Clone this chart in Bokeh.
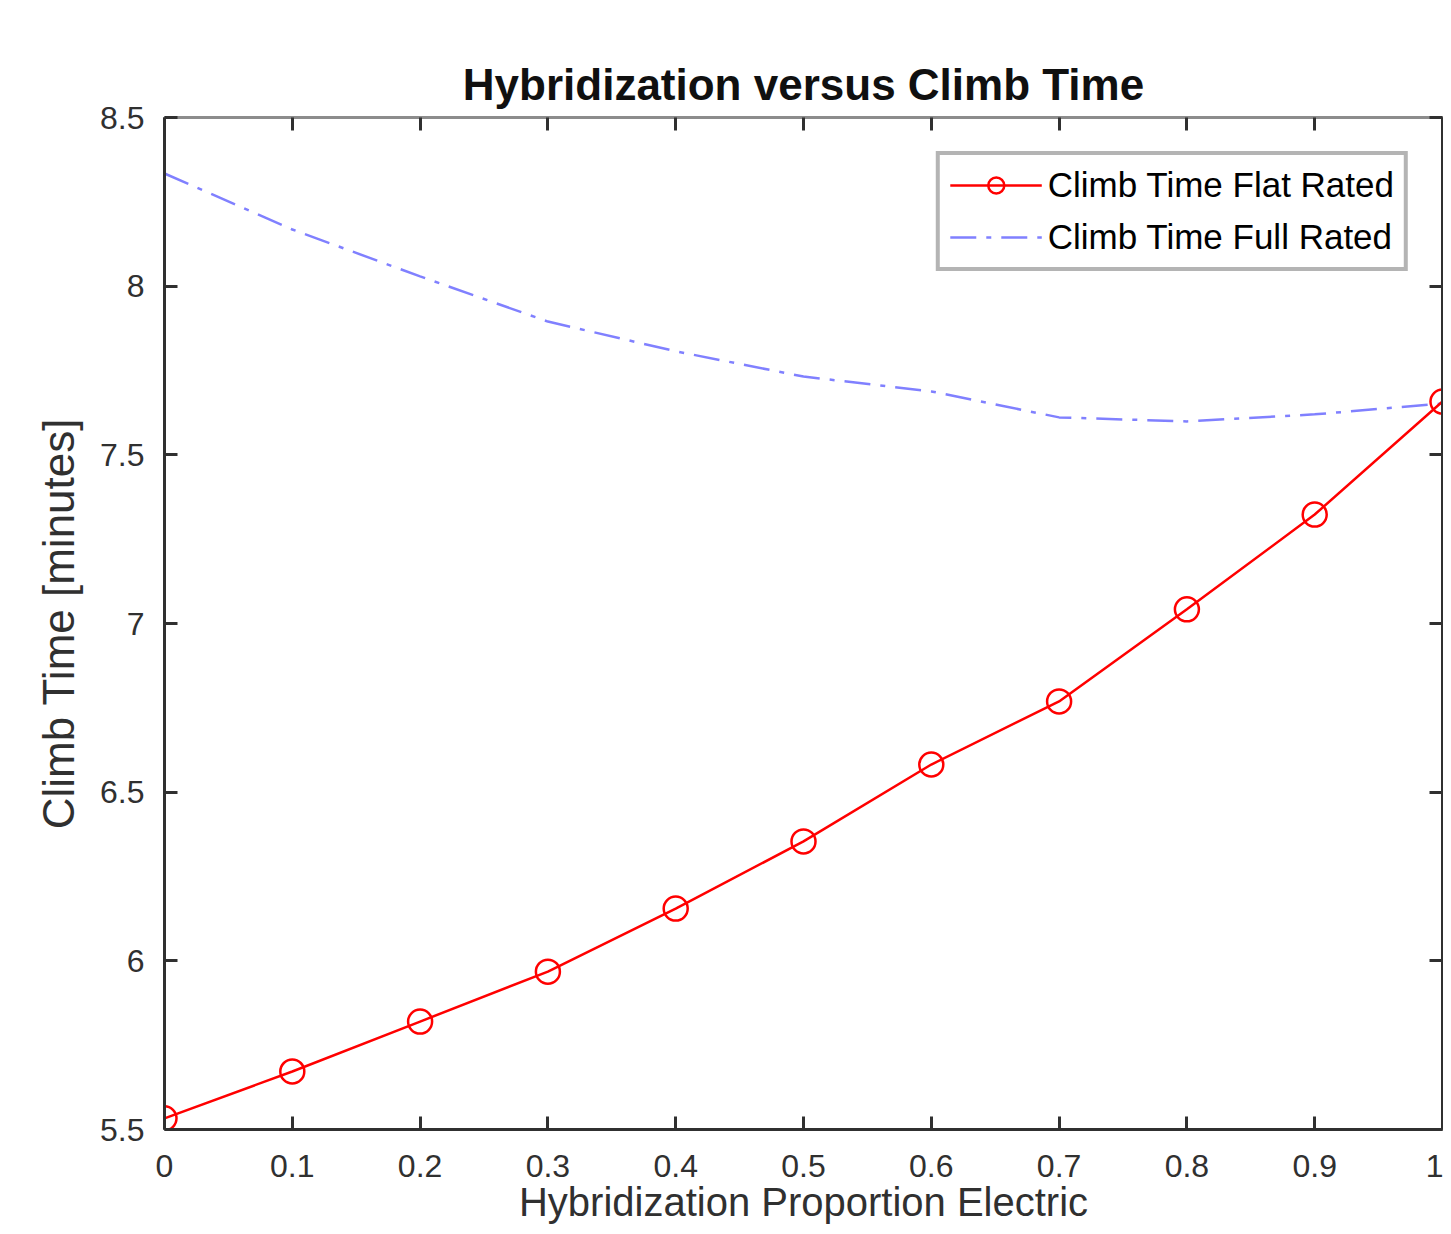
from bokeh.plotting import figure
from bokeh.models import LinearAxis, Range1d, FixedTicker, Legend, LegendItem
from bokeh.embed import file_html
from bokeh.resources import INLINE

hybrid = [0.0, 0.1, 0.2, 0.3, 0.4, 0.5, 0.6, 0.7, 0.8, 0.9, 1.0]
flat_rated = [5.533, 5.672, 5.820, 5.968, 6.155, 6.354, 6.582, 6.769, 7.042, 7.323, 7.658]
full_rated = [8.334, 8.168, 8.029, 7.895, 7.807, 7.732, 7.688, 7.611, 7.599, 7.620, 7.652]
x_ticks = [0, 0.1, 0.2, 0.3, 0.4, 0.5, 0.6, 0.7, 0.8, 0.9, 1]
y_ticks = [5.5, 6, 6.5, 7, 7.5, 8, 8.5]

FONT = "Liberation Sans"
AX = "#303030"

p = figure(width=1443, height=1226, output_backend="svg", toolbar_location=None,
           x_range=Range1d(0, 1), y_range=Range1d(5.5, 8.5),
           min_border_left=164, min_border_right=1, min_border_top=117, min_border_bottom=96)
p.title.text = "Hybridization versus Climb Time"
p.title.align = "center"
p.title.text_font = FONT
p.title.text_font_size = "44px"
p.title.text_font_style = "bold"
p.title.text_color = "#101010"
p.title.standoff = 17

p.grid.visible = False
p.outline_line_color = None
p.background_fill_color = "white"

def style_axis(ax, labels=True):
    ax.axis_line_color = AX
    ax.axis_line_width = 3
    ax.major_tick_line_color = AX
    ax.major_tick_line_width = 3
    ax.major_tick_in = 13
    ax.major_tick_out = 0
    ax.minor_tick_line_color = None
    ax.major_label_text_font = FONT
    ax.major_label_text_font_size = "32px"
    ax.major_label_text_color = AX
    ax.axis_label_text_font = FONT
    ax.axis_label_text_font_size = "42px"
    ax.axis_label_text_font_style = "normal"
    ax.axis_label_text_color = AX
    if not labels:
        ax.major_label_text_color = None

p.xaxis.ticker = FixedTicker(ticks=x_ticks)
p.yaxis.ticker = FixedTicker(ticks=y_ticks)
p.xaxis.axis_label = "Hybridization Proportion Electric"
p.yaxis.axis_label = "Climb Time [minutes]"
p.xaxis.major_label_overrides = {0: "0", 1: "1"}
style_axis(p.xaxis[0])
style_axis(p.yaxis[0])
p.xaxis.major_label_standoff = 25
p.xaxis.axis_label_standoff = 0
p.xaxis.axis_label_text_font_size = "40px"
p.yaxis.major_label_standoff = 20
p.yaxis.axis_label_standoff = 14
p.yaxis.axis_label_text_font_size = "44px"

top = LinearAxis(ticker=FixedTicker(ticks=x_ticks))
style_axis(top, labels=False)
top.axis_line_color = "#8c8c8c"
p.add_layout(top, "above")
right = LinearAxis(ticker=FixedTicker(ticks=y_ticks))
style_axis(right, labels=False)
p.add_layout(right, "right")

r_blue = p.line(hybrid, full_rated, line_color="#8080FF", line_width=2.5, line_dash="26 10 5 10")
r_red = p.line(hybrid, flat_rated, line_color="#FF0000", line_width=2.5)
r_circ = p.scatter(hybrid, flat_rated, marker="circle", size=24, line_color="#FF0000",
                   line_width=2.5, fill_alpha=0)

legend = Legend(items=[LegendItem(label="Climb Time Flat Rated", renderers=[r_red, r_circ]),
                       LegendItem(label="Climb Time Full Rated", renderers=[r_blue])],
                location="top_right")
legend.margin = 34
legend.border_line_color = "#6a6a6a"
legend.border_line_width = 4
legend.label_text_font = FONT
legend.label_text_font_size = "35px"
legend.label_text_color = "#000000"
legend.glyph_width = 92
legend.glyph_height = 40
legend.spacing = 12
legend.padding = 10
legend.label_standoff = 6
p.add_layout(legend, "center")

open("out.html", "w").write(file_html(p, INLINE))
